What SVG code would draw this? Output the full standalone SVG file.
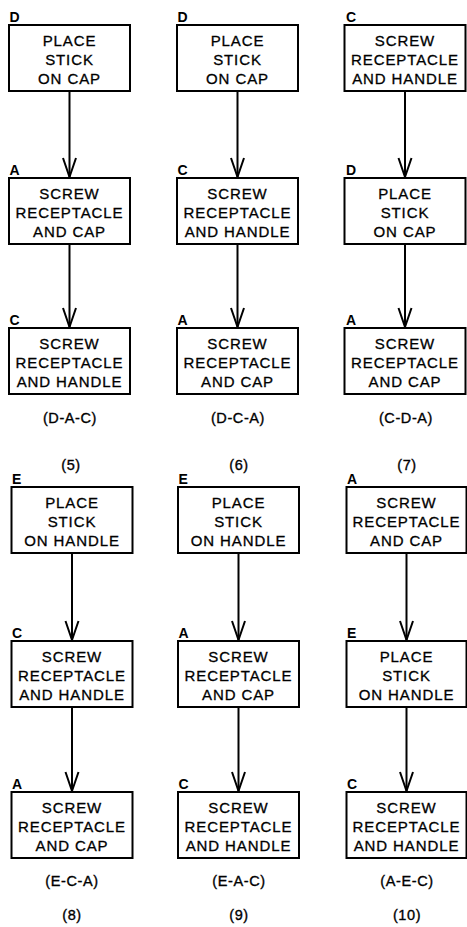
<svg xmlns="http://www.w3.org/2000/svg" width="467" height="927" viewBox="0 0 467 927">
<style>
.box{fill:#fff;stroke:#000;stroke-width:2}
.t{font-family:"Liberation Sans",Arial,sans-serif;font-size:15px;letter-spacing:0.9px;text-anchor:middle;fill:#000;stroke:#000;stroke-width:0.3}
.tag{font-family:"Liberation Sans",Arial,sans-serif;font-size:14px;font-weight:bold;fill:#000}
.cap{font-family:"Liberation Sans",Arial,sans-serif;font-size:14.5px;letter-spacing:0.6px;text-anchor:middle;fill:#000;stroke:#000;stroke-width:0.35}
.con{stroke:#000;stroke-width:2;fill:none;marker-end:url(#v)}
</style>
<defs>
<marker id="v" markerUnits="userSpaceOnUse" markerWidth="24" markerHeight="24" refX="0" refY="0" orient="auto" overflow="visible">
<path d="M-19,-6.5 L0,0 L-19,6.5" fill="none" stroke="#000" stroke-width="2"/>
</marker>
</defs>
<rect width="467" height="927" fill="#fff"/>

<g id="connectors">
<line class="con" x1="69.5" y1="91" x2="69.5" y2="177"/>
<line class="con" x1="69.5" y1="244" x2="69.5" y2="327"/>
<line class="con" x1="237.5" y1="91" x2="237.5" y2="177"/>
<line class="con" x1="237.5" y1="244" x2="237.5" y2="327"/>
<line class="con" x1="405" y1="91" x2="405" y2="177"/>
<line class="con" x1="405" y1="244" x2="405" y2="327"/>
<line class="con" x1="72" y1="553" x2="72" y2="640"/>
<line class="con" x1="72" y1="707" x2="72" y2="791"/>
<line class="con" x1="238.5" y1="553" x2="238.5" y2="640"/>
<line class="con" x1="238.5" y1="707" x2="238.5" y2="791"/>
<line class="con" x1="406.5" y1="553" x2="406.5" y2="640"/>
<line class="con" x1="406.5" y1="707" x2="406.5" y2="791"/>
</g>

<!-- Column 1 top (5) -->
<g id="n5D">
<rect class="box" x="9" y="25" width="121" height="66"/>
<text class="tag" x="9.5" y="22">D</text>
<text class="t" x="69.5" y="46">PLACE</text>
<text class="t" x="69.5" y="65">STICK</text>
<text class="t" x="69.5" y="84">ON CAP</text>
</g>
<g id="n5A">
<rect class="box" x="9" y="178" width="121" height="66"/>
<text class="tag" x="9.5" y="175">A</text>
<text class="t" x="69.5" y="199">SCREW</text>
<text class="t" x="69.5" y="218">RECEPTACLE</text>
<text class="t" x="69.5" y="237">AND CAP</text>
</g>
<g id="n5C">
<rect class="box" x="9" y="328" width="121" height="66"/>
<text class="tag" x="9.5" y="325">C</text>
<text class="t" x="69.5" y="349">SCREW</text>
<text class="t" x="69.5" y="368">RECEPTACLE</text>
<text class="t" x="69.5" y="387">AND HANDLE</text>
</g>

<!-- Column 2 top (6) -->
<g id="n6D">
<rect class="box" x="177" y="25" width="121" height="66"/>
<text class="tag" x="177.5" y="22">D</text>
<text class="t" x="237.5" y="46">PLACE</text>
<text class="t" x="237.5" y="65">STICK</text>
<text class="t" x="237.5" y="84">ON CAP</text>
</g>
<g id="n6C">
<rect class="box" x="177" y="178" width="121" height="66"/>
<text class="tag" x="177.5" y="175">C</text>
<text class="t" x="237.5" y="199">SCREW</text>
<text class="t" x="237.5" y="218">RECEPTACLE</text>
<text class="t" x="237.5" y="237">AND HANDLE</text>
</g>
<g id="n6A">
<rect class="box" x="177" y="328" width="121" height="66"/>
<text class="tag" x="177.5" y="325">A</text>
<text class="t" x="237.5" y="349">SCREW</text>
<text class="t" x="237.5" y="368">RECEPTACLE</text>
<text class="t" x="237.5" y="387">AND CAP</text>
</g>

<!-- Column 3 top (7) -->
<g id="n7C">
<rect class="box" x="344.5" y="25" width="121" height="66"/>
<text class="tag" x="346" y="22">C</text>
<text class="t" x="405" y="46">SCREW</text>
<text class="t" x="405" y="65">RECEPTACLE</text>
<text class="t" x="405" y="84">AND HANDLE</text>
</g>
<g id="n7D">
<rect class="box" x="344.5" y="178" width="121" height="66"/>
<text class="tag" x="346" y="175">D</text>
<text class="t" x="405" y="199">PLACE</text>
<text class="t" x="405" y="218">STICK</text>
<text class="t" x="405" y="237">ON CAP</text>
</g>
<g id="n7A">
<rect class="box" x="344.5" y="328" width="121" height="66"/>
<text class="tag" x="346" y="325">A</text>
<text class="t" x="405" y="349">SCREW</text>
<text class="t" x="405" y="368">RECEPTACLE</text>
<text class="t" x="405" y="387">AND CAP</text>
</g>

<!-- Column 1 bottom (8) -->
<g id="n8E">
<rect class="box" x="11.5" y="487" width="121" height="66"/>
<text class="tag" x="12" y="484">E</text>
<text class="t" x="72" y="508">PLACE</text>
<text class="t" x="72" y="527">STICK</text>
<text class="t" x="72" y="546">ON HANDLE</text>
</g>
<g id="n8C">
<rect class="box" x="11.5" y="641" width="121" height="66"/>
<text class="tag" x="12" y="638">C</text>
<text class="t" x="72" y="662">SCREW</text>
<text class="t" x="72" y="681">RECEPTACLE</text>
<text class="t" x="72" y="700">AND HANDLE</text>
</g>
<g id="n8A">
<rect class="box" x="11.5" y="792" width="121" height="66"/>
<text class="tag" x="12" y="789">A</text>
<text class="t" x="72" y="813">SCREW</text>
<text class="t" x="72" y="832">RECEPTACLE</text>
<text class="t" x="72" y="851">AND CAP</text>
</g>

<!-- Column 2 bottom (9) -->
<g id="n9E">
<rect class="box" x="178" y="487" width="121" height="66"/>
<text class="tag" x="178.5" y="484">E</text>
<text class="t" x="238.5" y="508">PLACE</text>
<text class="t" x="238.5" y="527">STICK</text>
<text class="t" x="238.5" y="546">ON HANDLE</text>
</g>
<g id="n9A">
<rect class="box" x="178" y="641" width="121" height="66"/>
<text class="tag" x="178.5" y="638">A</text>
<text class="t" x="238.5" y="662">SCREW</text>
<text class="t" x="238.5" y="681">RECEPTACLE</text>
<text class="t" x="238.5" y="700">AND CAP</text>
</g>
<g id="n9C">
<rect class="box" x="178" y="792" width="121" height="66"/>
<text class="tag" x="178.5" y="789">C</text>
<text class="t" x="238.5" y="813">SCREW</text>
<text class="t" x="238.5" y="832">RECEPTACLE</text>
<text class="t" x="238.5" y="851">AND HANDLE</text>
</g>

<!-- Column 3 bottom (10) -->
<g id="n10A">
<rect class="box" x="346.5" y="487" width="120" height="66"/>
<text class="tag" x="347" y="484">A</text>
<text class="t" x="406.5" y="508">SCREW</text>
<text class="t" x="406.5" y="527">RECEPTACLE</text>
<text class="t" x="406.5" y="546">AND CAP</text>
</g>
<g id="n10E">
<rect class="box" x="346.5" y="641" width="120" height="66"/>
<text class="tag" x="347" y="638">E</text>
<text class="t" x="406.5" y="662">PLACE</text>
<text class="t" x="406.5" y="681">STICK</text>
<text class="t" x="406.5" y="700">ON HANDLE</text>
</g>
<g id="n10C">
<rect class="box" x="346.5" y="792" width="120" height="66"/>
<text class="tag" x="347" y="789">C</text>
<text class="t" x="406.5" y="813">SCREW</text>
<text class="t" x="406.5" y="832">RECEPTACLE</text>
<text class="t" x="406.5" y="851">AND HANDLE</text>
</g>

<g id="captions">
<text class="cap" x="70" y="423">(D-A-C)</text>
<text class="cap" x="71" y="470">(5)</text>
<text class="cap" x="238" y="423">(D-C-A)</text>
<text class="cap" x="239" y="470">(6)</text>
<text class="cap" x="406" y="423">(C-D-A)</text>
<text class="cap" x="407" y="470">(7)</text>
<text class="cap" x="72" y="886">(E-C-A)</text>
<text class="cap" x="72" y="920">(8)</text>
<text class="cap" x="239" y="886">(E-A-C)</text>
<text class="cap" x="239" y="920">(9)</text>
<text class="cap" x="407" y="886">(A-E-C)</text>
<text class="cap" x="407" y="920">(10)</text>
</g>
</svg>
